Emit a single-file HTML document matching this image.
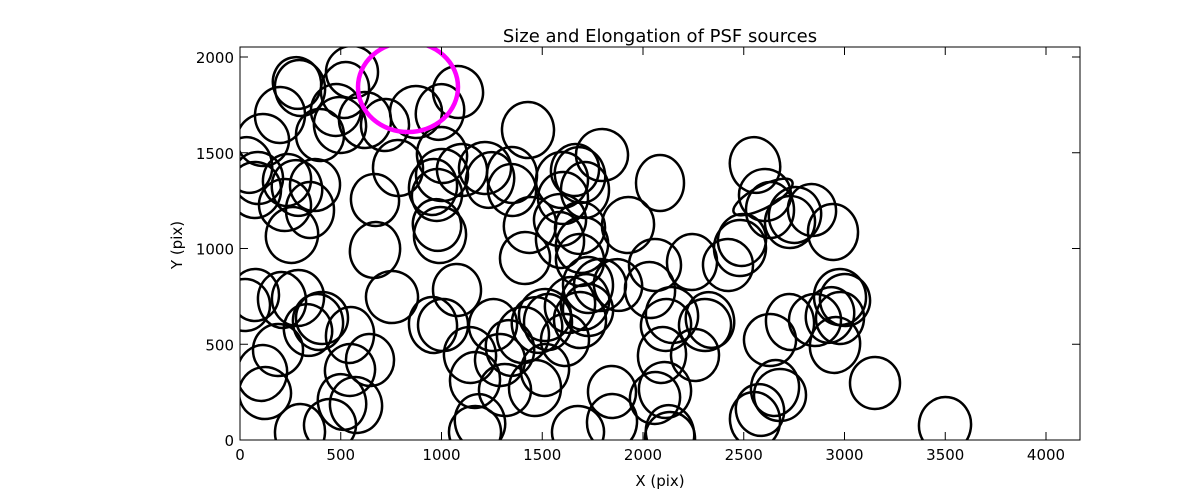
<!DOCTYPE html>
<html><head><meta charset="utf-8"><style>
body{margin:0;background:#fff;}
svg{display:block;font-family:"DejaVu Sans","Liberation Sans",sans-serif;}
</style></head><body>
<svg width="1200" height="490" viewBox="0 0 1200 490">
<defs><clipPath id="c"><rect x="240" y="47" width="840" height="393"/></clipPath></defs>
<g clip-path="url(#c)" fill="none" stroke="#000" stroke-width="2.5" id="el"></g>
<g clip-path="url(#c)"><ellipse cx="408" cy="87" rx="50" ry="45" fill="none" stroke="#ff00ff" stroke-width="4.5"/></g>
<rect x="240" y="47" width="840" height="393" fill="none" stroke="#000" stroke-width="1"/>
<g id="ticks" stroke="#000" stroke-width="1"></g>
<g font-size="15" fill="#000" id="lab"></g>
<text x="660" y="42" font-size="18" text-anchor="middle">Size and Elongation of PSF sources</text>
<text x="660" y="486" font-size="15" text-anchor="middle">X (pix)</text>
<text x="182" y="245" font-size="15" text-anchor="middle" transform="rotate(-90 182 245)">Y (pix)</text>
</svg>
<script>
var pts=[[297,83],[300,88],[352,72],[345,90],[336,110],[340,125],[320,135],[280,115],[263,140],[248,165],[258,178],[255,190],[287,180],[297,188],[285,205],[310,210],[315,185],[292,235],[375,200],[398,168],[416,112],[440,112],[458,92],[365,120],[385,125],
[375,250],[392,297],[433,325],[443,325],[440,235],[437,225],[442,155],[442,175],[433,187],[437,195],[470,355],[457,290],[475,380],[505,390],[510,348],[500,360],[523,335],[493,325],[537,325],[545,315],[548,322],[525,258],[530,225],[512,190],[512,175],[485,168],[490,180],[462,170],[528,130],
[255,295],[262,373],[265,393],[282,300],[278,350],[298,298],[308,330],[318,322],[322,318],[350,335],[350,370],[356,405],[370,360],[300,432],[330,425],[342,402],[245,305],
[562,180],[575,170],[580,175],[602,155],[585,190],[580,228],[582,245],[580,260],[588,285],[600,285],[585,302],[588,310],[580,320],[565,340],[570,305],[560,220],[560,240],[563,198],[628,225],[618,285],[650,290],[655,265],[662,355],[666,325],[672,315],[695,355],[692,262],[705,325],[710,320],[728,265],[740,248],[742,240],[755,165],[765,195],[770,210],[790,222],[795,215],[812,210],[833,232],[815,320],[830,315],[845,300],[840,297],[840,318],[835,345],[770,340],[790,322],[875,383],[945,425],[760,410],[755,420],[780,395],[775,388],[655,398],[665,390],[612,392],[612,422],[578,432],[670,433],[670,438],[535,388],[545,370],[480,422],[475,432],[660,183]];
var g=document.getElementById('el'),s='';
pts.forEach(function(p,i){var r=((i*37)%30)-15;var rx=24+(i%3),ry=26+(i%2)*2;s+='<ellipse cx="'+p[0]+'" cy="'+p[1]+'" rx="'+rx+'" ry="'+ry+'" transform="rotate('+r+' '+p[0]+' '+p[1]+')"/>';});
s+='<ellipse cx="763" cy="197" rx="33" ry="11" transform="rotate(-28 763 197)"/>';
g.innerHTML=s;
var t='',l='';
for(var v=0;v<=4000;v+=500){var x=240+v*0.2015;t+='<line x1="'+x+'" y1="440" x2="'+x+'" y2="432"/><line x1="'+x+'" y1="47" x2="'+x+'" y2="55"/>';l+='<text x="'+x+'" y="460" text-anchor="middle">'+v+'</text>';}
for(var v=0;v<=2000;v+=500){var y=440-v*0.1915;t+='<line x1="240" y1="'+y+'" x2="248" y2="'+y+'"/><line x1="1080" y1="'+y+'" x2="1072" y2="'+y+'"/>';l+='<text x="234" y="'+(y+6)+'" text-anchor="end">'+v+'</text>';}
document.getElementById('ticks').innerHTML=t;document.getElementById('lab').innerHTML=l;
</script>
</body></html>
